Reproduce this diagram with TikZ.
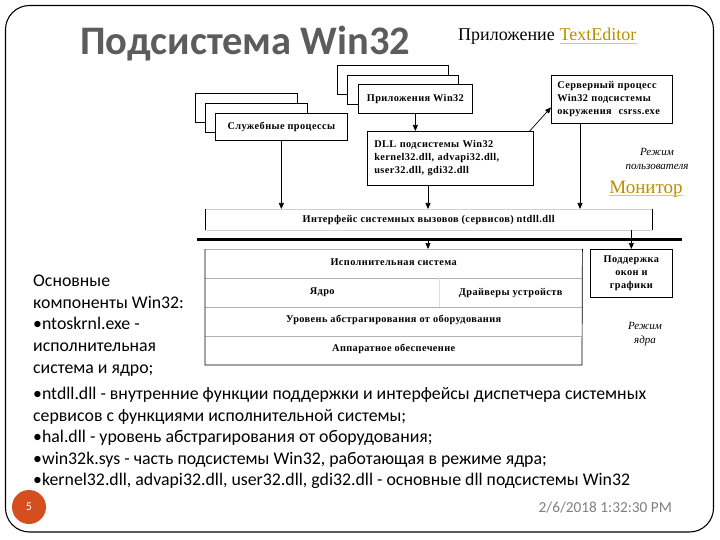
\documentclass[tikz,border=0pt]{standalone}
\usepackage{fontspec}
\setmainfont{Carlito}
\newfontfamily\dfont[LetterSpace=4]{Liberation Serif}
\newfontfamily\sfont{Liberation Serif}
\usetikzlibrary{arrows.meta,calc}
\definecolor{pagered}{RGB}{212,78,30}
\definecolor{linkgold}{RGB}{185,145,0}
\definecolor{ulyellow}{RGB}{245,205,20}
\definecolor{titlegray}{RGB}{92,92,92}
\begin{document}
\begin{tikzpicture}[x=1pt,y=-1pt,
  box/.style={draw, fill=white, line width=0.7pt, inner sep=0pt, anchor=north west},
  cell/.style={anchor=north west, inner sep=0pt},
  dtext/.style={font=\dfont\bfseries\fontsize{10.3}{13}\selectfont},
  itext/.style={font=\sfont\itshape\fontsize{11}{13.5}\selectfont},
  arr/.style={line width=0.7pt, -{Triangle[length=6pt,width=5pt]}},
  body/.style={anchor=north west, align=left, inner sep=0pt, font=\fontsize{17.8}{21.6}\selectfont}
]
\useasboundingbox (0,0) rectangle (720,540);
\fill[white] (0,0) rectangle (720,540);
\draw[line width=1.1pt, rounded corners=24pt] (5.5,5.5) rectangle (713.5,532);

% title
\node[anchor=base west, inner sep=0pt, font=\bfseries\fontsize{40.5}{44}\selectfont, text=titlegray] (title) at (80,55) {Подсистема Win32};
\node[anchor=base west, inner sep=0pt, font=\sfont\fontsize{18}{20}\selectfont] (app) at (458,41) {Приложение};
\node[anchor=base west, inner sep=0pt, font=\sfont\fontsize{18}{20}\selectfont, text=linkgold, xshift=4.5pt] (te) at (app.base east) {TextEditor};
\draw[ulyellow, line width=0.9pt] ([yshift=-2pt]te.base west) -- ([yshift=-2pt]te.base east);

% stacks
\node[box, minimum width=102pt, minimum height=29pt] (sb3) at (195,93) {};
\node[box, minimum width=102pt, minimum height=29pt] (sb2) at (205,103) {};
\node[box, minimum width=132pt, minimum height=27pt, dtext] (sb1) at (215,113) {Служебные процессы};

\node[box, minimum width=111pt, minimum height=29pt] (ap3) at (337,65) {};
\node[box, minimum width=111pt, minimum height=29pt] (ap2) at (347,75) {};
\node[box, minimum width=114pt, minimum height=29pt, dtext] (ap1) at (358,84) {Приложения Win32};

\node[box, text width=152pt, inner xsep=7pt, minimum height=54pt, align=left, dtext] (dll) at (367,131) {DLL подсистемы Win32\\kernel32.dll, advapi32.dll,\\user32.dll, gdi32.dll};

\node[box, text width=109pt, inner xsep=6pt, minimum height=48pt, align=left, dtext] (srv) at (551,75) {Серверный процесс\\Win32 подсистемы\\окружения\ \ csrss.exe};

% labels
\node[itext, align=center] (um) at (657,159) {Режим\\пользователя};
\node[font=\sfont\fontsize{19}{22}\selectfont, text=linkgold, inner sep=0pt] (mon) at (646,189) {Монитор};
\draw[ulyellow, line width=1pt] ([yshift=-2.5pt]mon.base west) -- ([yshift=-2.5pt]mon.base east);

% interface bar
\node[cell, minimum width=447pt, minimum height=21pt, dtext] (ifc) at (205,209) {Интерфейс системных вызовов (сервисов) ntdll.dll};
\draw[gray!35] (ifc.north west) -- (ifc.north east) (ifc.south west) -- (ifc.south east);
\draw[line width=0.7pt] (ifc.north west) -- (ifc.south west) (ifc.north east) -- (ifc.south east);

\coordinate (tl) at (197,239);
\coordinate (tr) at (682,239);
\draw[line width=3pt] (tl) -- (tr);

% kernel block
\node[cell, minimum width=377pt, minimum height=26pt, dtext] (exec) at (205,249) {Исполнительная система};
\node[cell, minimum width=234pt, minimum height=29pt, dtext] (core) at (205,278) {Ядро};
\node[cell, minimum width=143pt, minimum height=29pt, dtext] (drv) at (439,278) {Драйверы устройств};
\node[cell, minimum width=377pt, minimum height=25pt, dtext] (hal) at (205,307) {Уровень абстрагирования от оборудования};
\node[cell, minimum width=377pt, minimum height=25pt, dtext] (hw) at (205,336) {Аппаратное обеспечение};
\coordinate (kbl) at (205,365);
\coordinate (kbr) at (582,365);
\draw[gray!60, line width=0.6pt] (exec.north west) -- (exec.north east)
  (core.north west) -- (drv.north east) (hal.north west) -- (hal.north east)
  (hw.north west) -- (hw.north east);
\draw[gray!25, line width=0.6pt] (drv.north west) -- (drv.south west);
\draw[line width=0.7pt] (exec.north west) -- (kbl) -- (kbr) -- (exec.north east);

\node[box, minimum width=82pt, minimum height=48pt, align=center, dtext] (gfx) at (590,249) {Поддержка\\окон и\\графики};
\node[itext, align=center] (km) at (645,334) {Режим\\ядра};

% arrows
\draw[arr] (sb1.south) -- (sb1.south |- ifc.north);
\draw[arr] (ap1.south) -- (ap1.south |- dll.north);
\coordinate (dllout) at ($(dll.south west)+(61,0)$);
\draw[arr] (dllout) -- (dllout |- ifc.north);
\draw[arr] ($(dll.north east)+(-4,0)$) -- ($(srv.west)+(0,8)$);
\coordinate (srvout) at ($(srv.south west)+(29,0)$);
\draw[arr] (srvout) -- (srvout |- ifc.north);
\draw[arr] (dllout |- tl) -- (dllout |- exec.north);
\draw[arr] (gfx.north |- ifc.south) -- (gfx.north);

% text
\node[body] (lefttext) at (33,275) {Основные\\компоненты Win32:\\•ntoskrnl.exe -\\исполнительная\\система и ядро;};
\node[body] (bottomtext) at (33,387) {•ntdll.dll - внутренние функции поддержки и интерфейсы диспетчера системных\\сервисов с функциями исполнительной системы;\\•hal.dll - уровень абстрагирования от оборудования;\\•win32k.sys - часть подсистемы Win32, работающая в режиме ядра;\\•kernel32.dll, advapi32.dll, user32.dll, gdi32.dll - основные dll подсистемы Win32};

\node[circle, fill=pagered, minimum size=34pt, inner sep=0pt, text=white, font=\fontsize{12}{14}\selectfont] (pg) at (29,507) {5};
\node[anchor=base east, inner sep=0pt, text=gray, font=\fontsize{15.3}{17}\selectfont] (date) at (672,512) {2/6/2018 1:32:30 PM};
\end{tikzpicture}
\end{document}
